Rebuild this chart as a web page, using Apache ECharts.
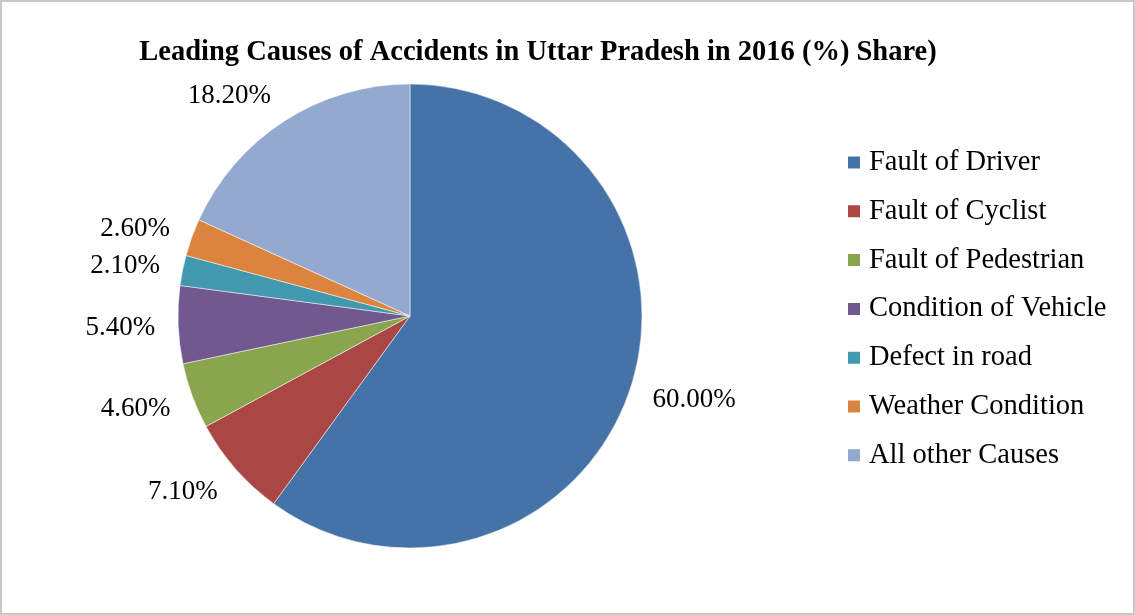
<!DOCTYPE html>
<html>
<head>
<meta charset="utf-8">
<script src="https://cdn.jsdelivr.net/npm/echarts@6/dist/echarts.min.js"></script>
<style>
  html, body { margin: 0; padding: 0; background: #fff; }
  #chart { width: 1131px; height: 611px; border: 2px solid #c8c8c8; }
</style>
</head>
<body>
<div id="chart"></div>
<script>
const causes = [
  "Fault of Driver",
  "Fault of Cyclist",
  "Fault of Pedestrian",
  "Condition of Vehicle",
  "Defect in road",
  "Weather Condition",
  "All other Causes",
];
const shares = [60.0, 7.1, 4.6, 5.4, 2.1, 2.6, 18.2];
const colors = ["#4572A7", "#AA4643", "#89A54E", "#71588F", "#4198AF", "#DB843D", "#93A9CF"];

const font = "'Liberation Serif', serif";
const chart = echarts.init(document.getElementById("chart"));

// mid angle of each slice (radians, clockwise from 12 o'clock)
const total = shares.reduce((a, b) => a + b, 0);
let acc = 0;
const midAngles = shares.map((v) => {
  const m = ((acc + v / 2) / total) * Math.PI * 2;
  acc += v;
  return m;
});

chart.setOption({
  animation: false,
  color: colors,
  title: {
    text: "Leading Causes of Accidents in Uttar Pradesh in 2016 (%) Share)",
    left: 531,
    top: 31,
    textAlign: "center",
    textStyle: { fontFamily: font, fontSize: 28.5, fontWeight: "bold", color: "#000" },
  },
  legend: {
    orient: "vertical",
    left: 839,
    top: 141,
    icon: "rect",
    itemWidth: 14,
    itemHeight: 14,
    itemGap: 19.8,
    textStyle: { fontFamily: font, fontSize: 28.5, lineHeight: 28, color: "#000", padding: [0, 0, 0, 3] },
    data: causes,
  },
  series: [
    {
      type: "pie",
      center: [408, 314],
      radius: 232,
      startAngle: 90,
      clockwise: true,
      avoidLabelOverlap: false,
      data: causes.map((name, i) => ({ name, value: shares[i] })),
      label: {
        position: "outside",
        formatter: (p) => p.value.toFixed(2) + "%",
        fontFamily: font,
        fontSize: 27,
        color: "#000",
        distanceToLabelLine: 2,
      },
      labelLine: { show: false, length: 21, length2: 0 },
      labelLayout: (p) => ({ dy: 2 - Math.cos(midAngles[p.dataIndex]) * 11 }),
      itemStyle: { borderColor: "#fff", borderWidth: 0.5 },
      emphasis: { disabled: true },
    },
  ],
});

window.addEventListener("resize", () => chart.resize());
</script>
</body>
</html>
